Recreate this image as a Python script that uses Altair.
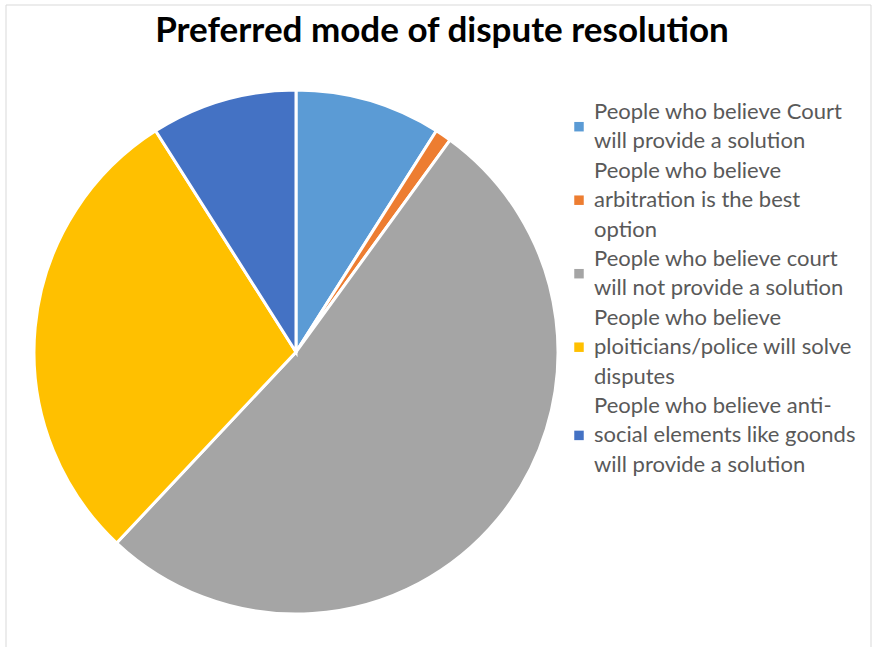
import altair as alt
import pandas as pd

# Survey shares (percent) for each preferred mode of dispute resolution
categories = [
    "People who believe Court|will provide a solution",
    "People who believe|arbitration is the best|option",
    "People who believe court|will not provide a solution",
    "People who believe|ploiticians/police will solve|disputes",
    "People who believe anti-|social elements like goonds|will provide a solution",
]
shares = [9, 1, 52, 29, 9]
colors = ["#5B9BD5", "#ED7D31", "#A5A5A5", "#FFC000", "#4472C4"]

df = pd.DataFrame({"category": categories, "share": shares, "order": range(len(shares))})

# Legend rows: labels wrap onto several lines; each swatch sits at the
# middle of its label block
n_lines = [c.count("|") + 1 for c in categories]
df["start"] = [sum(n_lines[:i]) for i in range(len(n_lines))]
df["mid"] = [s + (n - 1) / 2 for s, n in zip(df["start"], n_lines)]
total_lines = sum(n_lines)

W, H = 876, 647
LINE_H = 29.4
FIRST_LINE_Y = 112

color = alt.Color(
    "category:N",
    sort=categories,
    scale=alt.Scale(domain=categories, range=colors),
    legend=None,
)

pie = alt.Chart(df).mark_arc(
    outerRadius=262, stroke="white", strokeWidth=3
).encode(
    theta=alt.Theta("share:Q", stack=True),
    order=alt.Order("order:Q"),
    x=alt.value(296),
    y=alt.value(352),
    color=color,
)

line_scale = alt.Scale(
    domain=[0, total_lines],
    range=[FIRST_LINE_Y, FIRST_LINE_Y + LINE_H * total_lines],
)

legend_sym = alt.Chart(df).mark_square(size=90, opacity=1).encode(
    x=alt.value(579), y=alt.Y("mid:Q", scale=line_scale, axis=None), color=color
)

legend_txt = alt.Chart(df).mark_text(
    font="Lato", fontSize=22, color="#595959", align="left", baseline="middle",
    lineBreak="|", lineHeight=LINE_H,
).encode(
    x=alt.value(594), y=alt.Y("start:Q", scale=line_scale, axis=None), text="category:N"
)

title = alt.Chart(pd.DataFrame({"t": ["Preferred mode of dispute resolution"]})).mark_text(
    font="Lato", fontSize=35, fontWeight="bold", color="#000000", baseline="alphabetic"
).encode(text="t:N", x=alt.value(442), y=alt.value(42))

frame = alt.Chart(pd.DataFrame({"a": [0]})).mark_rect(
    fill=None, stroke="#D9D9D9", strokeWidth=1
).encode(x=alt.value(6), x2=alt.value(871), y=alt.value(5), y2=alt.value(660))

chart = alt.layer(frame, pie, legend_sym, legend_txt, title).properties(
    width=W, height=H, padding=0, autosize=alt.AutoSizeParams(type="none"),
    background="white",
).configure_view(stroke=None)

chart.save("out.html", embed_options={"renderer": "svg", "actions": False})
